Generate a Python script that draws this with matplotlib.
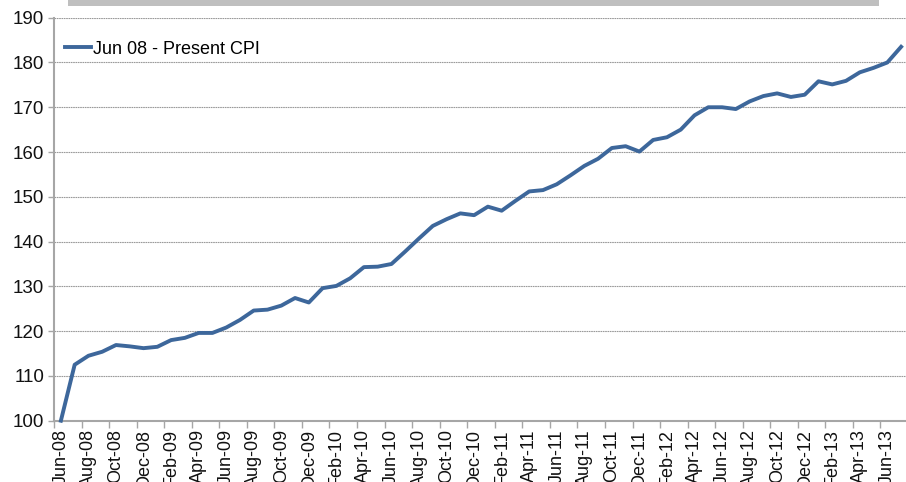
"""CPI index, Jun 08 to present, as a single-line chart."""

import matplotlib.pyplot as plt
from matplotlib.patches import Rectangle

plt.rcParams["font.family"] = ["Liberation Sans", "DejaVu Sans"]

months = [
    "Jun-08", "Jul-08", "Aug-08", "Sep-08", "Oct-08", "Nov-08", "Dec-08",
    "Jan-09", "Feb-09", "Mar-09", "Apr-09", "May-09", "Jun-09", "Jul-09",
    "Aug-09", "Sep-09", "Oct-09", "Nov-09", "Dec-09", "Jan-10", "Feb-10",
    "Mar-10", "Apr-10", "May-10", "Jun-10", "Jul-10", "Aug-10", "Sep-10",
    "Oct-10", "Nov-10", "Dec-10", "Jan-11", "Feb-11", "Mar-11", "Apr-11",
    "May-11", "Jun-11", "Jul-11", "Aug-11", "Sep-11", "Oct-11", "Nov-11",
    "Dec-11", "Jan-12", "Feb-12", "Mar-12", "Apr-12", "May-12", "Jun-12",
    "Jul-12", "Aug-12", "Sep-12", "Oct-12", "Nov-12", "Dec-12", "Jan-13",
    "Feb-13", "Mar-13", "Apr-13", "May-13", "Jun-13", "Jul-13",
]
cpi = [
    100.0, 112.5, 114.5, 115.4, 116.9, 116.6, 116.2,
    116.5, 118.0, 118.5, 119.6, 119.6, 120.8, 122.5,
    124.6, 124.8, 125.7, 127.4, 126.4, 129.6, 130.1,
    131.8, 134.3, 134.4, 135.0, 137.8, 140.7, 143.5,
    145.0, 146.3, 145.9, 147.8, 146.9, 149.1, 151.2,
    151.5, 152.8, 154.8, 156.9, 158.5, 160.9, 161.3,
    160.1, 162.7, 163.3, 165.0, 168.2, 170.0, 170.0,
    169.6, 171.3, 172.5, 173.1, 172.3, 172.8, 175.8,
    175.1, 175.9, 177.8, 178.8, 180.0, 183.5,
]
y_ticks = [100, 110, 120, 130, 140, 150, 160, 170, 180, 190]

W, H = 906, 482
fig = plt.figure(figsize=(W / 100, H / 100), dpi=100)
ax = fig.add_axes([54 / W, (H - 420.7) / H, 854 / W, 403 / H])

x = list(range(len(months)))
ax.plot(x, cpi, color="#3d679b", linewidth=2.8, solid_joinstyle="round",
        label="Jun 08 - Present CPI", clip_on=False, zorder=3)

ax.set_xlim(-0.5, len(months) - 0.5)
ax.set_ylim(100, 190)
ax.set_yticks(y_ticks)
ax.yaxis.grid(True, color="#9a9a9a", linewidth=0.8, linestyle=(0, (1.5, 0.6)))
ax.set_axisbelow(True)

# labels at every other month, tick marks on the category boundaries
ax.set_xticks(x[::2])
ax.set_xticklabels(months[::2], rotation=90, fontsize=13, color="#111111")
ax.set_xticks([i - 0.5 for i in x[::2]], minor=True)
ax.tick_params(axis="x", which="major", length=0, pad=6)
ax.tick_params(axis="x", which="minor", length=5, width=1, color="#a6a6a6", direction="out")
ax.tick_params(axis="y", length=4, width=1, color="#a6a6a6", labelsize=13.5,
               labelcolor="#111111", pad=3)

for side in ("top", "right"):
    ax.spines[side].set_visible(False)
for side in ("left", "bottom"):
    ax.spines[side].set_color("#a6a6a6")
    ax.spines[side].set_linewidth(1.5)

ax.legend(loc="center left", bbox_to_anchor=(11 / 854, 0.922), frameon=False,
          fontsize=13, handlelength=1.45, handletextpad=0.1, borderpad=0,
          borderaxespad=0)

# grey bar left over from the title box above the plot
fig.patches.append(Rectangle((68 / W, (H - 5.5) / H), (879 - 68) / W, 5.5 / H,
                             transform=fig.transFigure, facecolor="#bfbfbf",
                             edgecolor="none"))

fig.savefig("out.png", dpi=100)
